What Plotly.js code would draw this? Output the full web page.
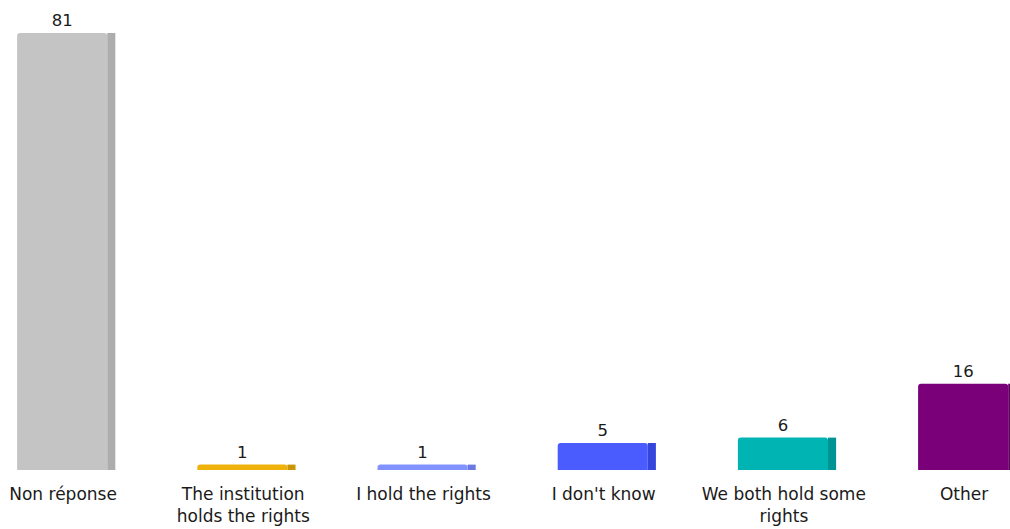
<!DOCTYPE html>
<html>
<head>
<meta charset="utf-8">
<script src="https://cdn.plot.ly/plotly-3.0.1.min.js"></script>
<style>html,body{margin:0;padding:0;background:#fff;}#chart{width:1010px;height:529px;}</style>
</head>
<body>
<div id="chart"></div>
<script>
const categories = ["Non réponse", "The institution<br>holds the rights", "I hold the rights", "I don't know", "We both hold some<br>rights", "Other"];
const values = [81, 1, 1, 5, 6, 16];
const frontColors = ["#c4c4c4", "#efb20a", "#8292ff", "#4b5cff", "#00b4b4", "#7a007a"];
const sideColors = ["#adadad", "#c99406", "#6a7ae0", "#3646dd", "#009494", "#5e005e"];

const front = {
  type: "bar", x: categories, y: values,
  offset: -0.255, width: 0.5,
  marker: {color: frontColors, cornerradius: 3, line: {width: 0}},
  text: values.map(String), textposition: "outside",
  textfont: {family: "DejaVu Sans, Verdana, sans-serif", size: 16.5, color: "#1a1a1a"},
  cliponaxis: false, hoverinfo: "x+y"
};
const side = {
  type: "bar", x: categories, y: values,
  offset: 0.245, width: 0.045,
  marker: {color: sideColors, line: {width: 0}},
  hoverinfo: "skip"
};

Plotly.newPlot("chart", [side, front], {
  width: 1010, height: 529,
  margin: {l: 0, r: 0, t: 0, b: 59},
  paper_bgcolor: "#fff", plot_bgcolor: "#fff",
  barmode: "overlay", showlegend: false,
  xaxis: {
    type: "category", range: [-0.35, 5.255],
    showgrid: false, zeroline: false, showline: false, ticks: "",
    ticklabelstandoff: 12, automargin: false,
    tickfont: {family: "DejaVu Sans, Verdana, sans-serif", size: 17, color: "#1a1a1a"}
  },
  yaxis: {range: [0, 87.1], visible: false, showgrid: false, zeroline: false}
}, {displayModeBar: false, staticPlot: true});
</script>
</body>
</html>
